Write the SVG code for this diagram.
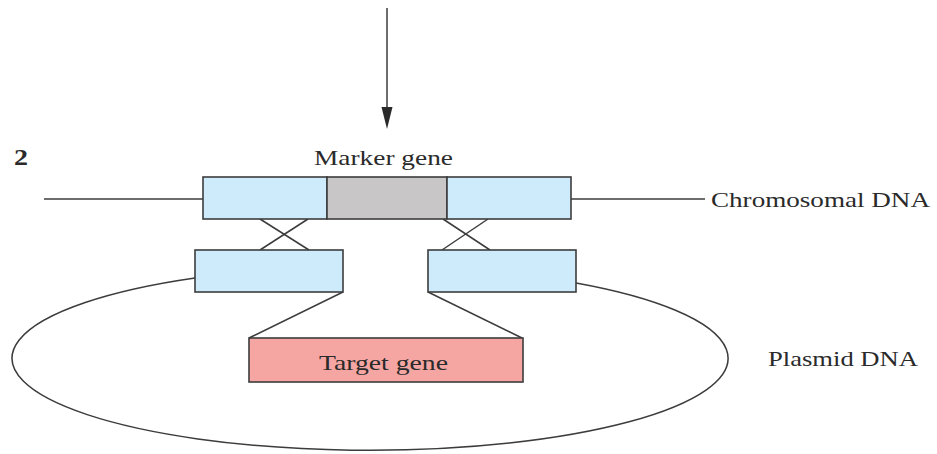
<svg xmlns="http://www.w3.org/2000/svg" width="937" height="454" viewBox="0 0 937 454">
  <style>
    .seg { stroke: #3c3c3c; stroke-width: 1.6; }
    .flank { fill: #cdebfb; }
    .marker { fill: #c8c6c7; }
    .target { fill: #f5a6a3; }
    .wire { fill: none; stroke: #3c3c3c; stroke-width: 1.5; }
    .label { font-family: "Liberation Serif", "Times New Roman", serif; font-size: 22px; fill: #2a2a2a; }
    .step { font-family: "Liberation Serif", "Times New Roman", serif; font-size: 23px; font-weight: bold; fill: #2a2a2a; }
  </style>

  <!-- connectors: DNA backbone, plasmid loop, crossovers, insert links, arrow -->
  <g id="connectors">
    <line class="wire" x1="44" y1="199" x2="203" y2="199"/>
    <line class="wire" x1="571" y1="199" x2="705" y2="199"/>
    <path class="wire" d="M195,278 A358,92 0 1 0 576,283"/>
    <line class="wire" x1="260" y1="219" x2="309" y2="250"/>
    <line class="wire" x1="308" y1="219" x2="260" y2="250"/>
    <line class="wire" x1="443" y1="219" x2="490" y2="250"/>
    <line class="wire" x1="488" y1="219" x2="442" y2="250"/>
    <line class="wire" x1="343" y1="292" x2="249" y2="338"/>
    <line class="wire" x1="428" y1="292" x2="522" y2="338"/>
    <line class="wire" x1="387" y1="8" x2="387" y2="110"/>
    <polygon points="381.5,107 392.5,107 387,129" fill="#2a2a2a"/>
  </g>

  <g id="step-number">
    <text class="step" x="14" y="165" textLength="14" lengthAdjust="spacingAndGlyphs">2</text>
  </g>

  <g id="chromosome-left-flank">
    <rect class="seg flank" x="203" y="177" width="124" height="42"/>
  </g>
  <g id="marker-gene">
    <rect class="seg marker" x="327" y="177" width="120" height="42"/>
    <text class="label" x="314" y="165" textLength="139" lengthAdjust="spacingAndGlyphs">Marker gene</text>
  </g>
  <g id="chromosome-right-flank">
    <rect class="seg flank" x="447" y="177" width="124" height="42"/>
  </g>
  <g id="chromosomal-dna-label">
    <text class="label" x="711" y="207" textLength="219" lengthAdjust="spacingAndGlyphs">Chromosomal DNA</text>
  </g>

  <g id="plasmid-left-flank">
    <rect class="seg flank" x="195" y="250" width="148" height="42"/>
  </g>
  <g id="plasmid-right-flank">
    <rect class="seg flank" x="428" y="250" width="148" height="42"/>
  </g>
  <g id="target-gene">
    <rect class="seg target" x="249" y="338" width="274" height="44"/>
    <text class="label" x="319" y="370" textLength="129" lengthAdjust="spacingAndGlyphs">Target gene</text>
  </g>
  <g id="plasmid-dna-label">
    <text class="label" x="768" y="366" textLength="150" lengthAdjust="spacingAndGlyphs">Plasmid DNA</text>
  </g>
</svg>
